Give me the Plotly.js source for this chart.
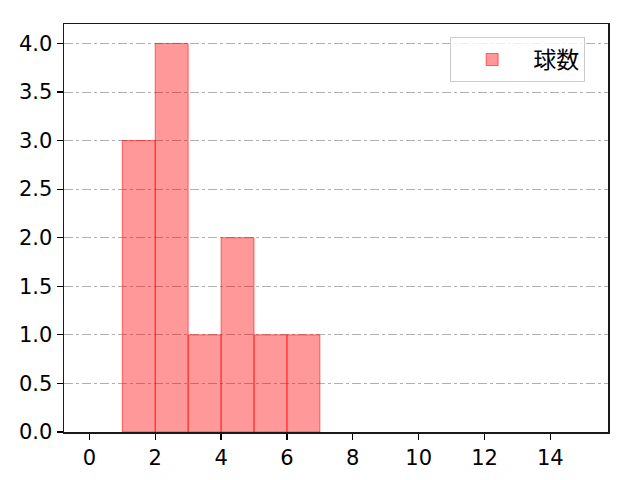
<!DOCTYPE html>
<html>
<head>
<meta charset="utf-8">
<script src="https://cdn.plot.ly/plotly-3.0.1.min.js"></script>
<style>html,body{margin:0;padding:0;background:#fff;}</style>
</head>
<body>
<div id="chart" style="width:640px;height:480px;"></div>
<script>
const binStarts = [1, 2, 3, 4, 5, 6];
const counts = [3, 4, 1, 2, 1, 1];
const seriesName = "球数";
const xTicks = [0, 2, 4, 6, 8, 10, 12, 14];
const yTicks = [0, 0.5, 1, 1.5, 2, 2.5, 3, 3.5, 4];

const FONT = '"DejaVu Sans", "Noto Sans CJK JP", sans-serif';
const CJK = '"Noto Sans CJK JP", sans-serif';

const trace = {
  type: 'bar',
  x: binStarts,
  y: counts,
  width: binStarts.map(() => 1),
  offset: 0,
  name: seriesName,
  marker: {
    color: 'rgba(255,0,0,0.4)',
    line: { color: 'rgba(255,0,0,0.55)', width: 1 }
  },
  showlegend: true
};

const layout = {
  width: 640,
  height: 480,
  margin: { l: 64, r: 32, t: 24, b: 48, pad: 0 },
  paper_bgcolor: '#ffffff',
  plot_bgcolor: '#ffffff',
  font: { family: FONT, size: 21, color: '#000' },
  bargap: 0,
  showlegend: true,
  xaxis: {
    range: [-0.77, 15.75],
    tickvals: xTicks,
    ticktext: xTicks.map(String),
    ticks: 'outside',
    ticklen: 6,
    tickwidth: 1.2,
    tickcolor: '#000',
    showgrid: false,
    zeroline: false,
    showline: true,
    linecolor: '#1a1a1a',
    linewidth: 1.5,
    mirror: true,
    tickfont: { family: FONT, size: 21, color: '#000' }
  },
  yaxis: {
    range: [0, 4.2],
    tickvals: yTicks,
    ticktext: yTicks.map(v => v.toFixed(1)),
    ticks: 'outside',
    ticklen: 6,
    tickwidth: 1.2,
    tickcolor: '#000',
    showgrid: true,
    gridcolor: '#b0b0b0',
    gridwidth: 1,
    griddash: 'dashdot',
    zeroline: false,
    showline: true,
    linecolor: '#1a1a1a',
    linewidth: 1.5,
    mirror: true,
    tickfont: { family: FONT, size: 21, color: '#000' }
  },
  legend: {
    x: 0.958,
    y: 0.968,
    xanchor: 'right',
    yanchor: 'top',
    bgcolor: 'rgba(255,255,255,0.8)',
    bordercolor: '#cccccc',
    borderwidth: 1,
    font: { family: CJK, size: 23, color: '#000' },
    itemwidth: 72
  }
};

Plotly.newPlot('chart', [trace], layout, { staticPlot: true, displayModeBar: false });
</script>
</body>
</html>
